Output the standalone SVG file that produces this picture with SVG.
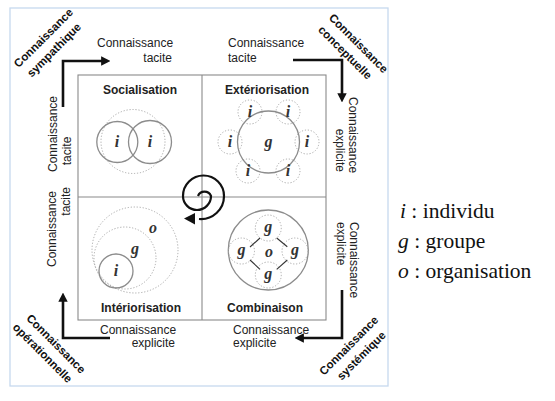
<svg xmlns="http://www.w3.org/2000/svg" width="555" height="401" viewBox="0 0 555 401">
<style>
.lbl{font-family:"Liberation Sans",Arial,sans-serif;font-size:12px;fill:#222}
.corner{font-family:"Liberation Sans",Arial,sans-serif;font-size:11.5px;font-weight:bold;fill:#111}
.title{font-family:"Liberation Sans",Arial,sans-serif;font-size:12px;font-weight:bold;fill:#222;text-anchor:middle}
.sym{font-family:"Liberation Serif","Times New Roman",serif;font-size:16px;font-weight:bold;font-style:italic;fill:#333;text-anchor:middle}
.leg{font-family:"Liberation Serif","Times New Roman",serif;font-size:21.5px;fill:#111}
.solid{fill:none;stroke:#8c8c8c;stroke-width:1.3}
.dot{fill:none;stroke:#a9a9a9;stroke-width:1;stroke-dasharray:1.2 1.8}
.arrow{fill:none;stroke:#111;stroke-width:2.6}
.grid{fill:none;stroke:#8a8a8a;stroke-width:1.1}
</style>
<defs>
<marker id="ah" viewBox="0 0 10 10" refX="2" refY="5" markerWidth="3.6" markerHeight="3.6" orient="auto" markerUnits="strokeWidth">
<path d="M0,0 L10,5 L0,10 z" fill="#111"/>
</marker>
</defs>
<rect x="10" y="8" width="378" height="378" fill="#fff" stroke="#c6d9ef" stroke-width="1.3"/>

<g id="quadrants">
<rect class="grid" x="78" y="75" width="248" height="245"/>
<line class="grid" x1="202" y1="75" x2="202" y2="320"/>
<line class="grid" x1="78" y1="197" x2="326" y2="197"/>
</g>

<g id="socialisation">
<text class="title" x="140" y="94">Socialisation</text>
<circle class="dot" cx="133" cy="141.5" r="32"/>
<circle class="solid" cx="117.3" cy="142" r="20.5"/>
<circle class="solid" cx="150" cy="142" r="21.5"/>
<text class="sym" x="117" y="147">i</text>
<text class="sym" x="150" y="147">i</text>
</g>

<g id="exteriorisation">
<text class="title" x="267" y="94">Extériorisation</text>
<circle class="dot" cx="250" cy="112" r="12"/>
<circle class="dot" cx="288" cy="112" r="12"/>
<circle class="dot" cx="230" cy="142" r="12"/>
<circle class="dot" cx="307" cy="142" r="12"/>
<circle class="dot" cx="248" cy="171" r="12"/>
<circle class="dot" cx="288" cy="171" r="12"/>
<circle class="solid" cx="268.5" cy="142" r="31"/>
<text class="sym" x="250" y="117">i</text>
<text class="sym" x="288" y="117">i</text>
<text class="sym" x="230" y="147">i</text>
<text class="sym" x="307" y="147">i</text>
<text class="sym" x="248" y="176">i</text>
<text class="sym" x="288" y="176">i</text>
<text class="sym" x="268.5" y="147">g</text>
</g>

<g id="interiorisation">
<text class="title" x="141" y="311.5">Intériorisation</text>
<circle class="dot" cx="135" cy="250" r="43"/>
<circle class="dot" cx="125" cy="258" r="31"/>
<circle class="solid" cx="116" cy="271" r="17"/>
<text class="sym" x="153" y="233">o</text>
<text class="sym" x="135" y="254">g</text>
<text class="sym" x="116" y="276">i</text>
</g>

<g id="combinaison">
<text class="title" x="265" y="311.5">Combinaison</text>
<circle class="solid" cx="268.3" cy="250" r="40"/>
<circle class="dot" cx="268.3" cy="228" r="13"/>
<circle class="dot" cx="241.5" cy="251" r="13"/>
<circle class="dot" cx="295" cy="251" r="13"/>
<circle class="dot" cx="268.3" cy="275" r="13"/>
<line x1="260" y1="238" x2="250" y2="247" stroke="#333" stroke-width="1.1"/>
<line x1="276.7" y1="238" x2="287.3" y2="246.7" stroke="#333" stroke-width="1.1"/>
<line x1="250" y1="260" x2="260" y2="269.3" stroke="#333" stroke-width="1.1"/>
<line x1="287.3" y1="260" x2="276.7" y2="269.3" stroke="#333" stroke-width="1.1"/>
<text class="sym" x="268.3" y="232">g</text>
<text class="sym" x="241.5" y="255">g</text>
<text class="sym" x="295" y="255">g</text>
<text class="sym" x="268.3" y="279">g</text>
<text class="sym" x="269" y="257">o</text>
</g>

<g id="spiral">
<path d="M198 196 A7 7 0 0 1 211 196 A14 14 0 0 1 183 196 A20.5 20.5 0 0 1 224 196 A23 23 0 0 1 199 219" fill="none" stroke="#111" stroke-width="2.2"/>
<polygon points="184,218.5 195,213 195,224.5" fill="#111"/>
</g>

<g id="connectors">
<path class="arrow" d="M63 107 V61 H103" marker-end="url(#ah)"/>
<path class="arrow" d="M293 60 H342 V95" marker-end="url(#ah)"/>
<path class="arrow" d="M342 290 V338 H302" marker-end="url(#ah)"/>
<path class="arrow" d="M110 338 H63 V300" marker-end="url(#ah)"/>
</g>

<g id="labels">
<text class="lbl" x="97" y="47">Connaissance</text>
<text class="lbl" x="172" y="62" text-anchor="end">tacite</text>
<text class="lbl" x="228" y="47">Connaissance</text>
<text class="lbl" x="228" y="62">tacite</text>
<text class="lbl" x="100" y="334">Connaissance</text>
<text class="lbl" x="175" y="347" text-anchor="end">explicite</text>
<text class="lbl" x="233" y="334">Connaissance</text>
<text class="lbl" x="233" y="347">explicite</text>

<text class="lbl" transform="translate(57 172) rotate(-90)">Connaissance</text>
<text class="lbl" transform="translate(71 151) rotate(-90)" text-anchor="middle">tacite</text>
<text class="lbl" transform="translate(56 267) rotate(-90)">Connaissance</text>
<text class="lbl" transform="translate(70 187) rotate(-90)" text-anchor="end">tacite</text>

<text class="lbl" transform="translate(349 97) rotate(90)">Connaissance</text>
<text class="lbl" transform="translate(336 172) rotate(90)" text-anchor="end">explicite</text>
<text class="lbl" transform="translate(350 222) rotate(90)">Connaissance</text>
<text class="lbl" transform="translate(337 222) rotate(90)">explicite</text>
</g>

<g id="corners">
<g transform="translate(49 43.5) rotate(-45)">
<text class="corner" x="0" y="-4" text-anchor="middle">Connaissance</text>
<text class="corner" x="-1" y="12" text-anchor="middle">sympathique</text>
</g>
<g transform="translate(351.5 47.5) rotate(45)">
<text class="corner" x="2" y="-4" text-anchor="middle">Connaissance</text>
<text class="corner" x="-1" y="12" text-anchor="middle">conceptuelle</text>
</g>
<g transform="translate(49 348) rotate(45)">
<text class="corner" x="2" y="-4" text-anchor="middle">Connaissance</text>
<text class="corner" x="-1" y="12" text-anchor="middle">opérationnelle</text>
</g>
<g transform="translate(355 350.5) rotate(-45)">
<text class="corner" x="-1" y="-4" text-anchor="middle">Connaissance</text>
<text class="corner" x="1" y="12" text-anchor="middle">systémique</text>
</g>
</g>

<g id="legend">
<text class="leg" x="400" y="218"><tspan font-style="italic">i</tspan> : individu</text>
<text class="leg" x="398" y="248"><tspan font-style="italic">g</tspan> : groupe</text>
<text class="leg" x="398" y="278"><tspan font-style="italic">o</tspan> : organisation</text>
</g>
</svg>
